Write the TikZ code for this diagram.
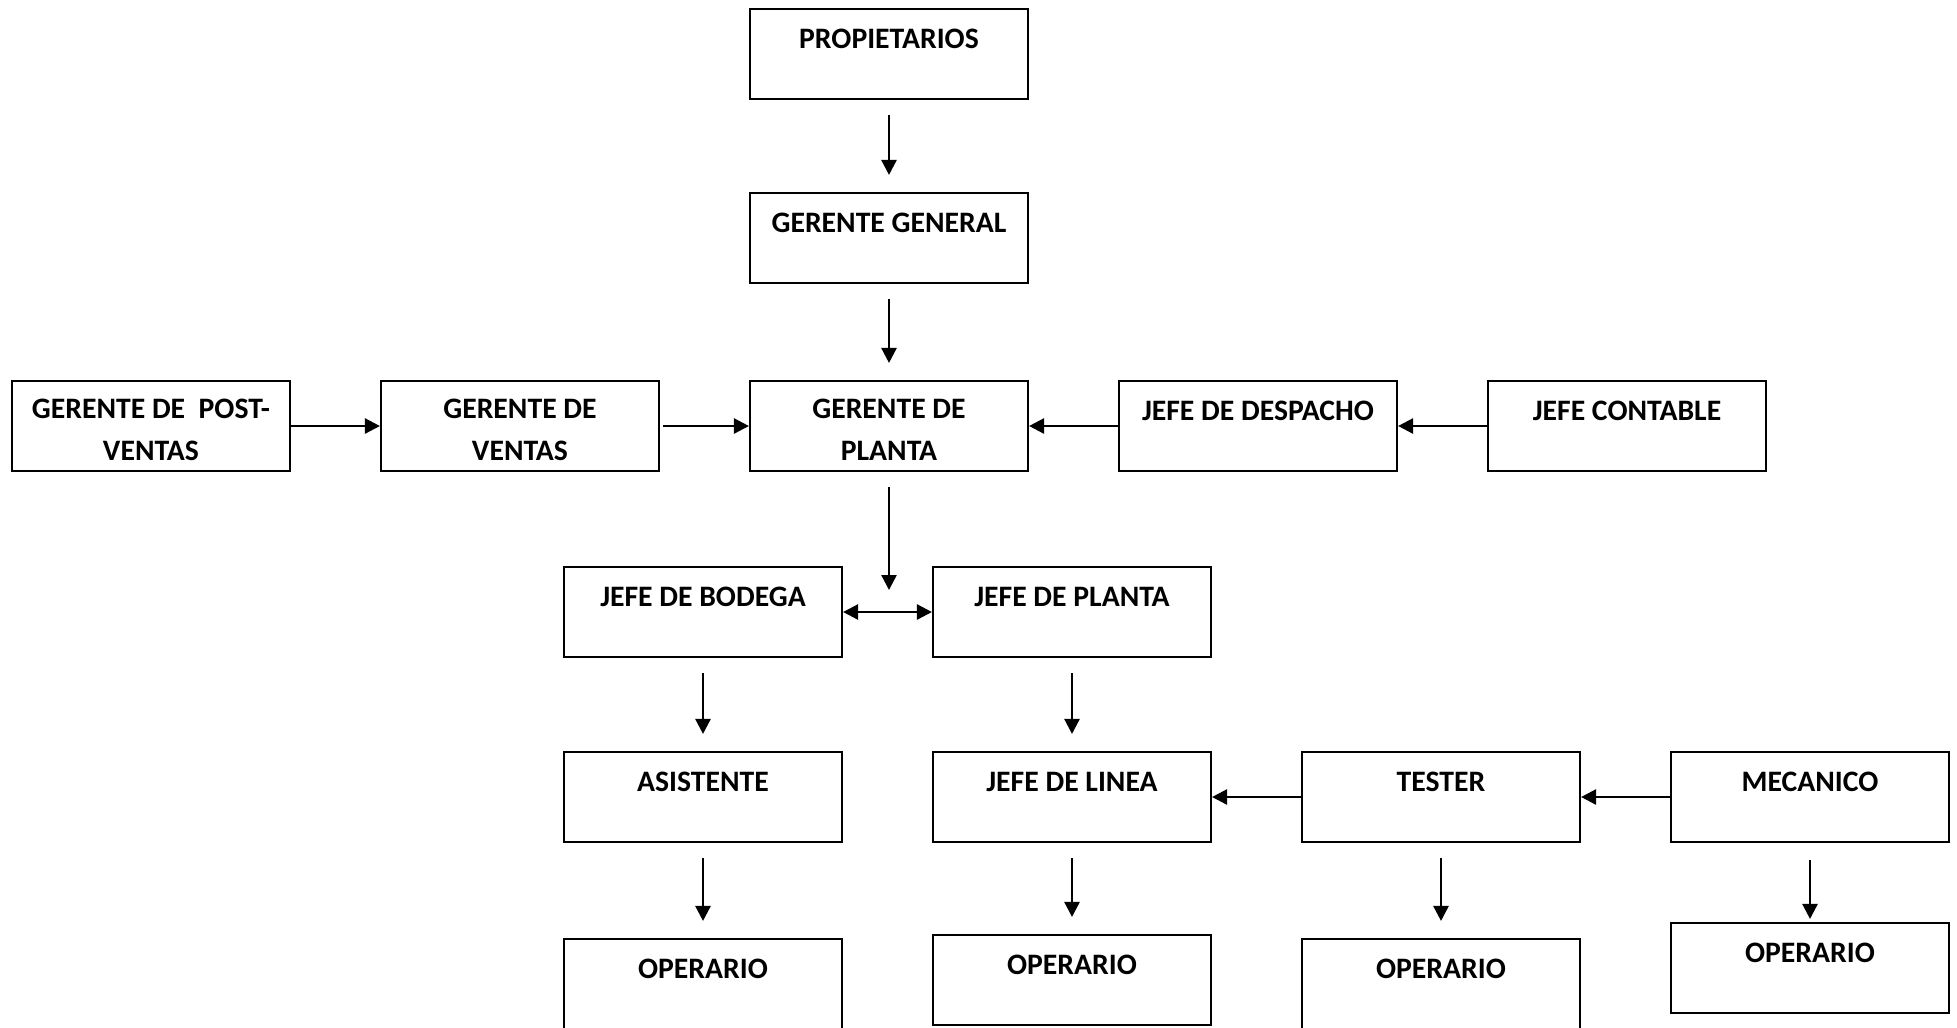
\documentclass[tikz,border=0pt]{standalone}
\usepackage{fontspec}
\setmainfont{Carlito}
\usepackage{tikz}
\usetikzlibrary{
        arrows,
        shapes,
        positioning,
        arrows.meta
    }

\begin{document}
\begin{tikzpicture}
[box/.style={draw=black, rectangle, line width=0.6pt, minimum width=2.78cm, minimum height=0.9cm, inner sep=0pt, text height=0.39cm, text depth=0.51cm, align=center, font=\fontsize{8.45}{11.95}\selectfont\bfseries},
twoline/.style={box, text height=0.79cm, text depth=0.11cm},
arrow/.style={line width=0.7pt, -{Triangle[width=0.15cm, length=0.15cm]}},
down/.style={arrow, shorten <=0.15cm, shorten >=0.17cm},
node distance=3.69cm,]

    \useasboundingbox (0,0) rectangle (19.57,-10.27);

    \node (prop) [box] at (8.89,-0.54) {PROPIETARIOS};
    \node (gg) [box, below of= prop, node distance=1.84cm] {GERENTE GENERAL};
    \node (gp) [twoline, below of= gg, node distance=1.88cm] {GERENTE DE\\PLANTA};
    \node (ventas) [twoline, left of= gp] {GERENTE DE\\VENTAS};
    \node (post) [twoline, left of= ventas] {GERENTE DE\ \ POST-\\VENTAS};
    \node (desp) [box, right of= gp] {JEFE DE DESPACHO};
    \node (cont) [box, right of= desp] {JEFE CONTABLE};

    \node (bodega) [box] at (7.03,-6.12) {JEFE DE BODEGA};
    \node (jplanta) [box, right of= bodega] {JEFE DE PLANTA};
    \node (asist) [box, below of= bodega, node distance=1.85cm] {ASISTENTE};
    \node (linea) [box, below of= jplanta, node distance=1.85cm] {JEFE DE LINEA};
    \node (tester) [box, right of= linea] {TESTER};
    \node (mec) [box, right of= tester] {MECANICO};

    \node (op1) [box, below of= asist, node distance=1.87cm] {OPERARIO};
    \node (op2) [box, below of= linea, node distance=1.83cm] {OPERARIO};
    \node (op3) [box, below of= tester, node distance=1.87cm] {OPERARIO};
    \node (op4) [box, below of= mec, node distance=1.71cm] {OPERARIO};

    \coordinate[yshift=0.22cm] (jn) at (bodega.east -| gp);

    \draw[down] (prop) -- (gg);
    \draw[down] (gg) -- (gp);
    \draw[arrow] (post) -- (ventas);
    \draw[arrow, shorten <=0.03cm] (ventas) -- (gp);
    \draw[arrow] (desp) -- (gp);
    \draw[arrow] (cont) -- (desp);
    \draw[arrow, shorten <=0.15cm] (gp) -- (jn);
    \draw[line width=0.7pt, {Triangle[width=0.15cm, length=0.15cm]}-{Triangle[width=0.15cm, length=0.15cm]}] (bodega) -- (jplanta);
    \draw[down] (bodega) -- (asist);
    \draw[down] (jplanta) -- (linea);
    \draw[arrow] (tester) -- (linea);
    \draw[arrow] (mec) -- (tester);
    \draw[down] (asist) -- (op1);
    \draw[down] (linea) -- (op2);
    \draw[down] (tester) -- (op3);
    \draw[arrow, shorten <=0.17cm, shorten >=0.03cm] (mec) -- (op4);
\end{tikzpicture}
\end{document}
